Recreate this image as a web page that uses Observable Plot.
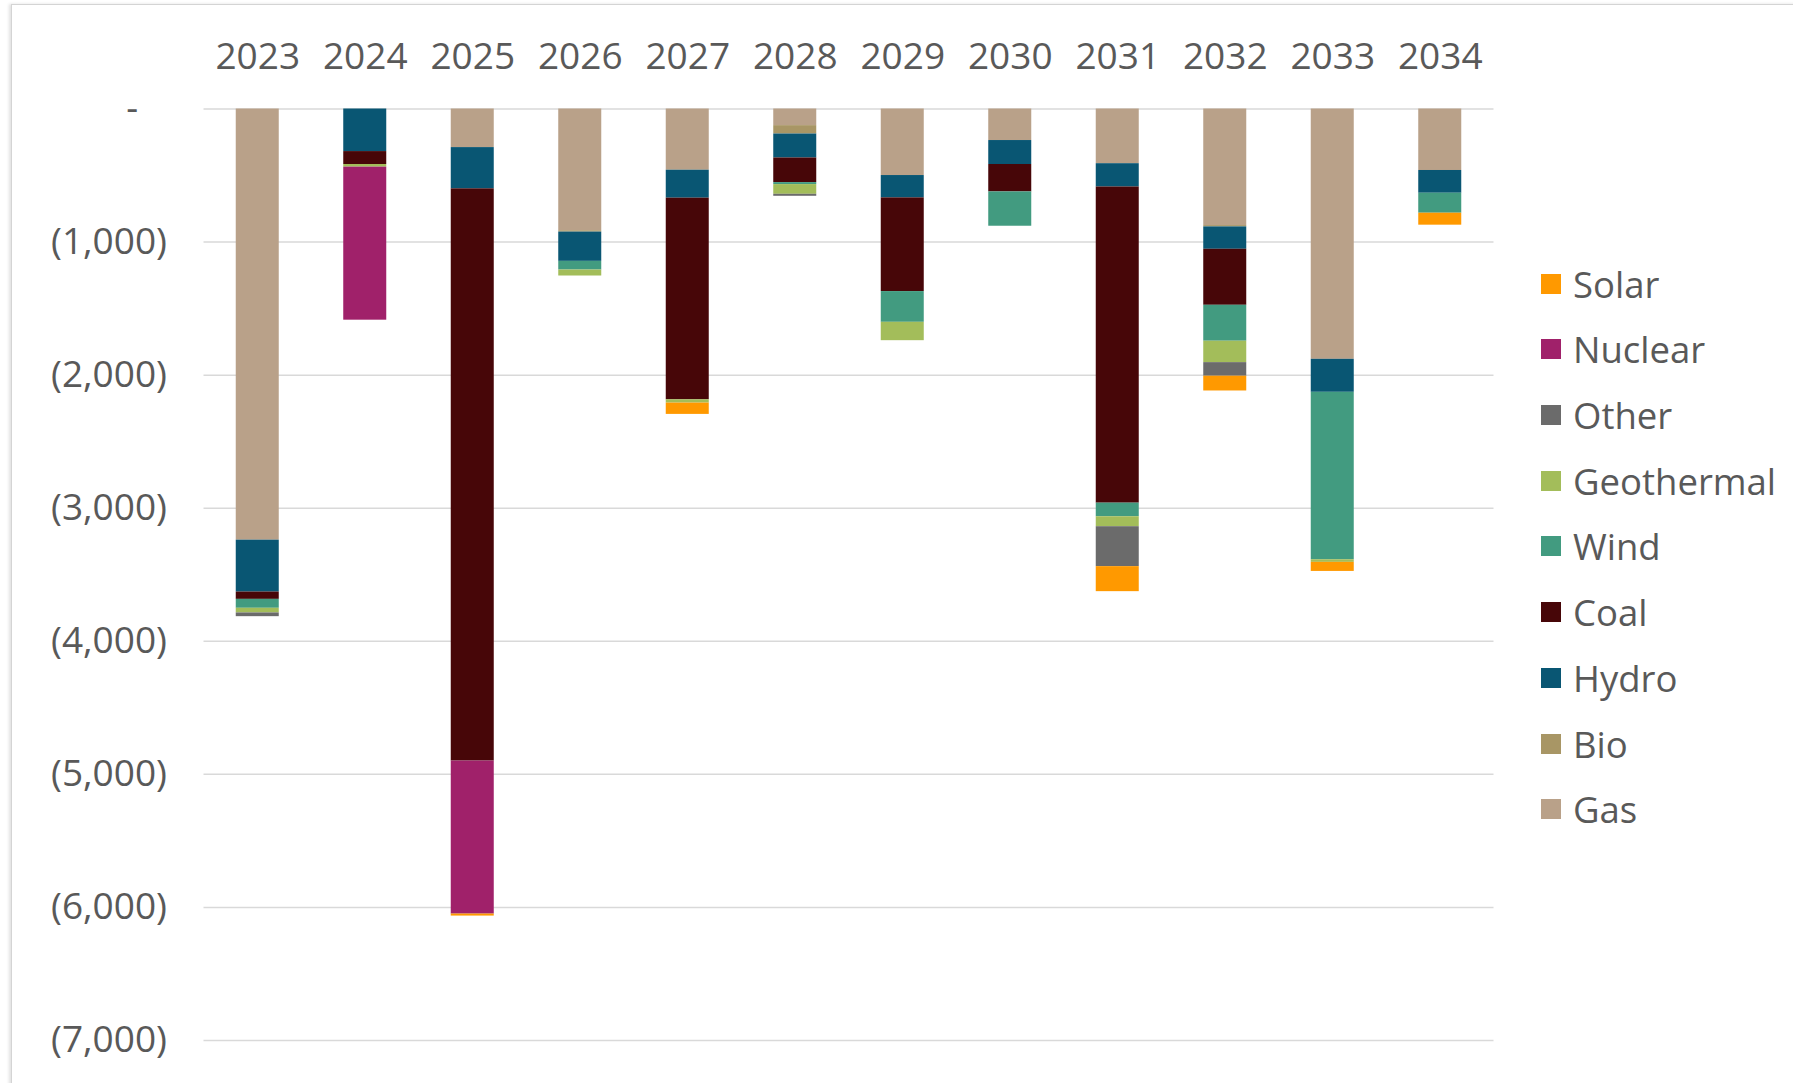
<!DOCTYPE html>
<html>
<head>
<meta charset="utf-8">
<script src="https://cdn.jsdelivr.net/npm/d3@7"></script>
<script src="https://cdn.jsdelivr.net/npm/@observablehq/plot@0.6"></script>
<style>
  html, body { margin: 0; padding: 0; background: #fff; }
  #wrap { position: relative; width: 1793px; height: 1083px; overflow: hidden; font-family: "Open Sans", sans-serif; }
  #frame { position: absolute; left: 11px; top: 4px; width: 1790px; height: 1090px; border: 1px solid #d4d4d4; box-shadow: -2px 0 3px rgba(0,0,0,0.12); }
  #chart { position: absolute; left: 0; top: 0; }
  #legend { position: absolute; left: 1541px; top: 0; }
  .item { position: absolute; display: flex; align-items: center; white-space: nowrap; color: #595959; font-size: 36.5px; }
  .sw { width: 20px; height: 20px; margin-right: 12px; }
</style>
</head>
<body>
<div id="wrap"><div id="frame"></div><div id="chart"></div><div id="legend"></div></div>
<script>
const years = ["2023","2024","2025","2026","2027","2028","2029","2030","2031","2032","2033","2034"];
// Stack order from zero downward
const types = ["Gas","Bio","Hydro","Coal","Wind","Geothermal","Other","Nuclear","Solar"];
const gas        = [-3240,     0,  -290,  -915,  -460,  -125,  -500,  -237,  -411,  -876, -1881,  -462];
const bio        = [    0,     0,     0,   -10,     0,   -63,     0,     0,     0,   -10,     0,     0];
const hydro      = [ -390,  -320,  -310,  -220,  -210,  -180,  -168,  -180,  -175,  -168,  -248,  -171];
const coal       = [  -55,   -97, -4300,     0, -1515,  -185,  -704,  -206, -2376,  -421,     0,     0];
const wind       = [  -67,     0,     0,   -65,     0,   -15,  -231,  -258,  -102,  -270, -1258,  -150];
const geothermal = [  -35,   -20,     0,   -45,   -25,   -73,  -138,     0,   -75,  -161,   -20,     0];
const other      = [  -28,     0,     0,     0,     0,   -15,     0,     0,  -300,  -102,     0,     0];
const nuclear    = [    0, -1150, -1150,     0,     0,     0,     0,     0,     0,     0,     0,     0];
const solar      = [    0,     0,   -15,     0,   -85,     0,     0,     0,  -188,  -111,   -68,   -90];
const yTicks = [0, -1000, -2000, -3000, -4000, -5000, -6000, -7000];
const legendOrder = ["Solar","Nuclear","Other","Geothermal","Wind","Coal","Hydro","Bio","Gas"];
const colors = {
  Solar: "#ff9900", Nuclear: "#a0216a", Other: "#6b6b6b", Geothermal: "#a3bd5a",
  Wind: "#429b80", Coal: "#470608", Hydro: "#095673", Bio: "#a89665", Gas: "#b9a189"
};

const series = {Gas: gas, Bio: bio, Hydro: hydro, Coal: coal, Wind: wind, Geothermal: geothermal, Other: other, Nuclear: nuclear, Solar: solar};
const data = [];
for (const t of types) years.forEach((y, i) => data.push({year: y, type: t, value: series[t][i]}));

const fmt = d3.format(",");
const chart = Plot.plot({
  width: 1793,
  height: 1083,
  marginLeft: 203.5,
  marginRight: 299.5,
  marginTop: 108.5,
  marginBottom: 43,
  style: {fontFamily: "'Open Sans', sans-serif", fontSize: "37px", color: "#595959", background: "transparent"},
  x: {type: "band", domain: years, paddingInner: 0.6, paddingOuter: 0.3, round: false, label: null},
  y: {domain: [-7000, 0], label: null},
  color: {domain: types, range: types.map(t => colors[t])},
  marks: [
    Plot.gridY(yTicks, {stroke: "#d9d9d9", strokeOpacity: 1, strokeWidth: 1.5}),
    Plot.barY(data, {x: "year", y: "value", fill: "type", order: types}),
    Plot.axisX({anchor: "top", tickSize: 0, tickPadding: 40, fontSize: 37, label: null}),
    Plot.axisY(yTicks, {anchor: "left", tickSize: 0, tickPadding: 37, fontSize: 37, label: null,
      tickFormat: d => d === 0 ? "-\u00a0\u00a0\u00a0" : `(${fmt(-d)})`})
  ]
});
document.getElementById("chart").appendChild(chart);

const legend = d3.select("#legend");
legendOrder.forEach((t, i) => {
  const item = legend.append("div").attr("class", "item").style("top", (283.6 + i * 65.7 - 24) + "px").style("height", "48px");
  item.append("div").attr("class", "sw").style("background", colors[t]);
  item.append("span").text(t);
});
</script>
</body>
</html>
